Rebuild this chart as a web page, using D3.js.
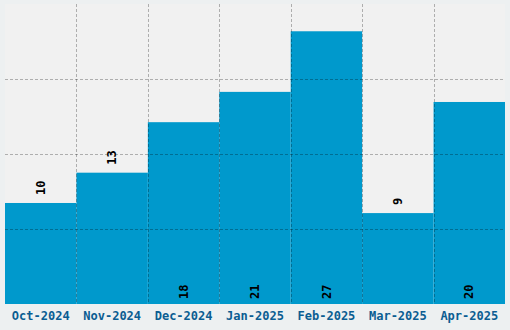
<!DOCTYPE html>
<html>
<head>
<meta charset="utf-8">
<script src="https://cdn.jsdelivr.net/npm/d3@7"></script>
<style>
  html, body { margin: 0; padding: 0; background: #edf0f1; }
  svg { display: block; }
  text { font-family: "DejaVu Sans Mono", "Liberation Mono", monospace; font-weight: bold; }
</style>
</head>
<body>
<div id="chart"></div>
<script>
// monthly values
const months = ["Oct-2024", "Nov-2024", "Dec-2024", "Jan-2025", "Feb-2025", "Mar-2025", "Apr-2025"];
const counts = [10, 13, 18, 21, 27, 9, 20];

const pageWidth = 510;
const pageHeight = 330;
const margin = {top: 4, right: 5, bottom: 26, left: 5};
const width = pageWidth - margin.left - margin.right;
const height = pageHeight - margin.top - margin.bottom;

const data = months.map((m, i) => ({month: m, value: counts[i]}));

const svg = d3.select("#chart").append("svg")
    .attr("width", pageWidth)
    .attr("height", pageHeight);

const g = svg.append("g")
    .attr("transform", "translate(" + margin.left + "," + margin.top + ")");

const x = d3.scaleBand()
    .domain(months)
    .range([0, width])
    .padding(0);

const yMax = d3.max(counts) * 1.1;
const y = d3.scaleLinear()
    .domain([0, yMax])
    .range([height, 0]);

// plot background
g.append("rect")
    .attr("width", width)
    .attr("height", height)
    .attr("fill", "#f1f1f1");

// bars
g.selectAll(".bar")
    .data(data)
    .enter().append("rect")
    .attr("class", "bar")
    .attr("x", d => x(d.month))
    .attr("width", x.bandwidth())
    .attr("y", d => y(d.value))
    .attr("height", d => y(0) - y(d.value))
    .attr("fill", "#0099cc");

// grid on top of the bars
const gridColor = "rgba(0,0,0,0.28)";
const gridTicks = [1, 2, 3].map(k => yMax * k / 4);
g.append("g")
    .selectAll("line")
    .data(gridTicks)
    .enter().append("line")
    .attr("x1", 0)
    .attr("x2", width)
    .attr("y1", d => Math.round(y(d)) + 0.5)
    .attr("y2", d => Math.round(y(d)) + 0.5)
    .attr("stroke", gridColor)
    .attr("stroke-dasharray", "3,2");

g.append("g")
    .selectAll("line")
    .data(months.slice(1))
    .enter().append("line")
    .attr("x1", d => Math.round(x(d)) + 0.5)
    .attr("x2", d => Math.round(x(d)) + 0.5)
    .attr("y1", 0)
    .attr("y2", height)
    .attr("stroke", gridColor)
    .attr("stroke-dasharray", "3,2");

// x axis labels
const xAxis = g.append("g")
    .attr("transform", "translate(0," + height + ")")
    .call(d3.axisBottom(x).tickSize(0).tickPadding(7));
xAxis.select(".domain").remove();
xAxis.selectAll("text")
    .attr("fill", "#0b5d92")
    .style("font-size", "12px")
    .style("font-family", "'DejaVu Sans Mono', monospace")
    .style("font-weight", "bold");

// value labels, inside the bar bottom when tall enough, otherwise above it
const insideMin = 15;
g.selectAll(".value")
    .data(data)
    .enter().append("text")
    .attr("class", "value")
    .attr("transform", d => {
        const cx = x(d.month) + x.bandwidth() / 2;
        const cy = d.value >= insideMin ? y(0) - 5 : y(d.value) - 8;
        return "translate(" + cx + "," + cy + ") rotate(-90)";
    })
    .attr("dy", "0.35em")
    .attr("text-anchor", "start")
    .attr("fill", "#000")
    .style("font-size", "12px")
    .text(d => d.value);
</script>
</body>
</html>
